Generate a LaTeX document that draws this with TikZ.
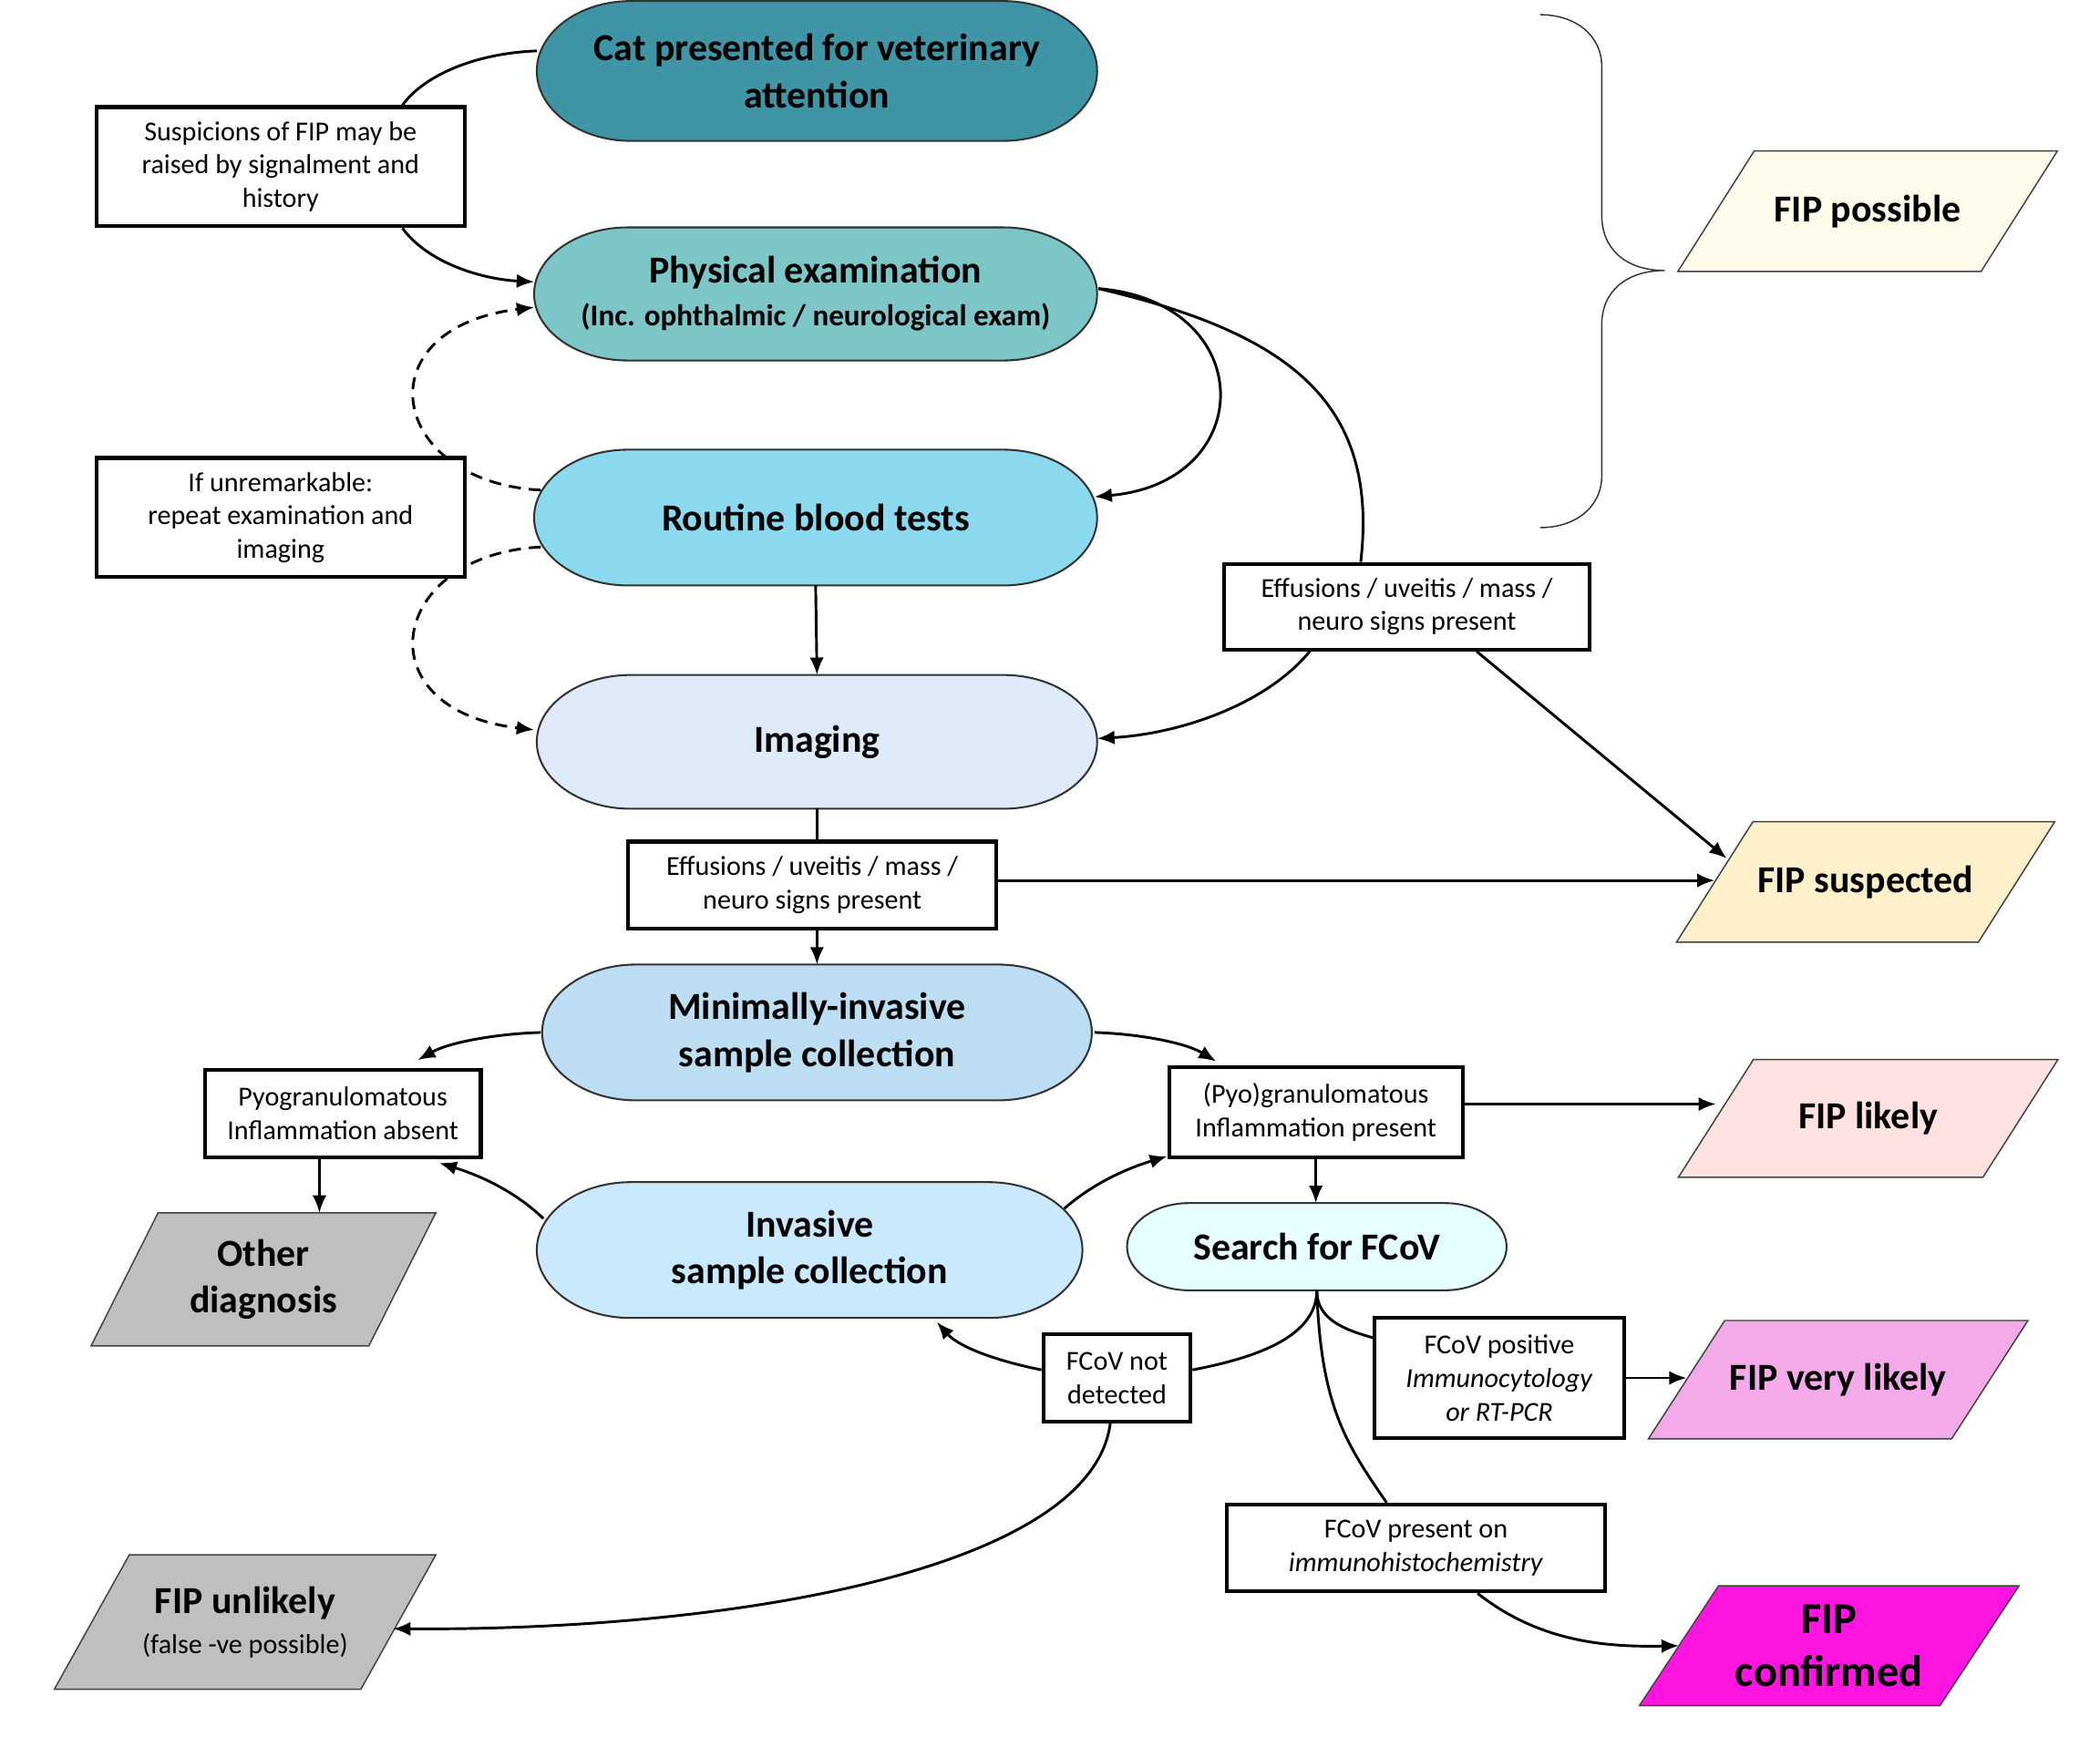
\documentclass[tikz,border=0pt]{standalone}
\usepackage{fontspec}
\setmainfont{Carlito}
\usetikzlibrary{arrows.meta}
\usetikzlibrary{calc}

\definecolor{catcol}{HTML}{3F95A5}
\definecolor{physcol}{HTML}{7DC6C8}
\definecolor{bloodcol}{HTML}{8BD9EE}
\definecolor{imgcol}{HTML}{DEEAF8}
\definecolor{minicol}{HTML}{BDDDF2}
\definecolor{invcol}{HTML}{CBE9FC}
\definecolor{fcovcol}{HTML}{E6FFFF}
\definecolor{possiblecol}{HTML}{FEFBEA}
\definecolor{suspectcol}{HTML}{FEF0CB}
\definecolor{likelycol}{HTML}{FDE2E1}
\definecolor{verycol}{HTML}{F4A9E9}
\definecolor{confirmcol}{HTML}{FF14E0}
\definecolor{othercol}{HTML}{BFBFBF}

\pgfdeclarelayer{bg}
\pgfsetlayers{bg,main}

\tikzset{
  stage/.style={align=center, inner sep=0pt, font=\bfseries\fontsize{28.5}{35}\selectfont},
  capsule/.style={draw=black!80, line width=1.4pt},
  note/.style={draw, fill=white, line width=2.8pt, align=center, inner sep=0pt, font=\fontsize{20.5}{25}\selectfont},
  outcome/.style={align=center, inner sep=0pt, font=\bfseries\fontsize{28.5}{35}\selectfont},
  outcome line/.style={draw=black!75, line width=1pt},
  link/.style={line width=2pt},
  loop back/.style={line width=2pt, dash pattern=on 9pt off 6pt},
}

% rounded ends round a stage node: #1 = end width, #2 = node, #3 = fill
\newcommand{\capsule}[3][70]{%
  \coordinate (p1) at ($(#2.north west)+(#1,0)$);
  \coordinate (p2) at ($(#2.north east)+(-#1,0)$);
  \coordinate (p3) at ($(#2.south east)+(-#1,0)$);
  \coordinate (p4) at ($(#2.south west)+(#1,0)$);
  \path[capsule, fill=#3] (p1) -- (p2)
    .. controls ($(p2)!0.55!(#2.north east)$) and ($(#2.east)!0.55!(#2.north east)$) .. (#2.east)
    .. controls ($(#2.east)!0.55!(#2.south east)$) and ($(p3)!0.55!(#2.south east)$) .. (p3)
    -- (p4)
    .. controls ($(p4)!0.55!(#2.south west)$) and ($(#2.west)!0.55!(#2.south west)$) .. (#2.west)
    .. controls ($(#2.west)!0.55!(#2.north west)$) and ($(p1)!0.55!(#2.north west)$) .. (p1) -- cycle;
}

% slanted box round an outcome node: #1 = slant, #2 = node, #3 = fill
\newcommand{\slant}[3][57]{%
  \path[outcome line, fill=#3] (#2.south west) -- ($(#2.south east)+(-#1,0)$)
    -- (#2.north east) -- ($(#2.north west)+(#1,0)$) -- cycle;
}

\begin{document}
\begin{tikzpicture}[x=1pt, y=-1pt, >={Latex[length=13pt,width=10.5pt]}]
  \useasboundingbox (0,0) rectangle (1568,1304);

  % main steps
  \node[stage, minimum width=418pt, minimum height=104pt] (cat) at (610,53) {Cat presented for veterinary\\attention};
  \node[stage, minimum width=420pt, minimum height=99pt] (phys) at (609,219.5) {Physical examination\\[-3pt]{\fontsize{22.5}{27}\selectfont(Inc. ophthalmic / neurological exam)}};
  \node[stage, minimum width=420pt, minimum height=101pt] (blood) at (609,386.5) {Routine blood tests};
  \node[stage, minimum width=418pt, minimum height=99.5pt] (imaging) at (610,554) {Imaging};
  \node[stage, minimum width=410pt, minimum height=101pt] (minimal) at (610,771) {Minimally-invasive\\sample collection};
  \node[stage, minimum width=407pt, minimum height=101pt] (invasive) at (604.5,933.5) {Invasive\\sample collection};
  \node[stage, minimum width=283pt, minimum height=64.7pt] (search) at (983.2,931) {Search for FCoV};

  % findings
  \node[note, minimum width=275pt, minimum height=89pt] (susp) at (209.5,124.5) {Suspicions of FIP may be\\raised by signalment and\\history};
  \node[note, minimum width=275pt, minimum height=89pt] (unrem) at (209.5,386.5) {If unremarkable:\\repeat examination and\\imaging};
  \node[note, minimum width=273pt, minimum height=64pt] (eff1) at (1050.5,453) {Effusions / uveitis / mass /\\neuro signs present};
  \node[note, minimum width=275pt, minimum height=65pt] (eff2) at (606.5,661) {Effusions / uveitis / mass /\\neuro signs present};
  \node[note, minimum width=206pt, minimum height=65pt] (pyoabs) at (256,831.5) {Pyogranulomatous\\Inflammation absent};
  \node[note, minimum width=219pt, minimum height=67pt] (pyopres) at (982.5,830.5) {(Pyo)granulomatous\\Inflammation present};
  \node[note, minimum width=110pt, minimum height=65pt] (notdet) at (834,1029) {FCoV not\\detected};
  \node[note, minimum width=186pt, minimum height=90pt] (fcovpos) at (1119.5,1029) {FCoV positive\\\textit{Immunocytology}\\\textit{or RT-PCR}};
  \node[note, minimum width=282pt, minimum height=65pt] (ihc) at (1057.3,1156) {FCoV present on\\\textit{immunohistochemistry}};

  % outcomes
  \node[outcome, minimum width=283pt, minimum height=89.5pt] (possible) at (1394.5,157.7) {FIP possible};
  \node[outcome, minimum width=282pt, minimum height=89.5pt] (suspected) at (1393,658.6) {FIP suspected};
  \node[outcome, minimum width=283pt, minimum height=87.5pt] (likely) at (1394.9,835.2) {FIP likely};
  \node[outcome, minimum width=283pt, minimum height=88pt] (verylikely) at (1372.5,1030.3) {FIP very likely};
  \node[outcome, minimum width=283pt, minimum height=89pt, font=\bfseries\fontsize{33}{40}\selectfont] (confirmed) at (1365.8,1229) {FIP\\confirmed};
  \node[outcome, minimum width=257pt, minimum height=99pt] (other) at (196.7,955.4) {Other\\diagnosis};
  \node[outcome, minimum width=284.5pt, minimum height=100pt] (unlikely) at (183,1211.3) {FIP unlikely\\[-5pt]{\mdseries\fontsize{20.5}{25}\selectfont(false -ve possible)}};

  % brace
  \draw[black!80, line width=1pt] (1150,11) .. controls (1176,11) and (1196,26) .. (1196,50) -- (1196,161)
    .. controls (1196,186) and (1214,202) .. (1243,202) .. controls (1214,202) and (1196,218) .. (1196,242)
    -- (1196,355) .. controls (1196,379) and (1176,394) .. (1150,394);

  \begin{pgfonlayer}{bg}
    \capsule{cat}{catcol}
    \capsule{phys}{physcol}
    \capsule{blood}{bloodcol}
    \capsule{imaging}{imgcol}
    \capsule{minimal}{minicol}
    \capsule{invasive}{invcol}
    \capsule[46]{search}{fcovcol}

    \slant{possible}{possiblecol}
    \slant{suspected}{suspectcol}
    \slant[56]{likely}{likelycol}
    \slant{verylikely}{verycol}
    \slant[59]{confirmed}{confirmcol}
    \slant[50]{other}{othercol}
    \slant[56]{unlikely}{othercol}

    % connectors
    \draw[link] ($(cat.west)+(0,-15)$) .. controls +(-50,2) and +(14,-20) .. ($(susp.north)+(91,0)$);
    \draw[link,->] ($(susp.south)+(91,0)$) .. controls +(19,26) and +(-39,-2) .. ($(phys.west)+(0,-9)$);
    \draw[link,->] ($(phys.east)+(1,-4)$) .. controls +(120,10) and +(123,-11) .. ($(blood.east)+(-2,-15.5)$);
    \draw[link] ($(phys.east)+(1,-4)$) .. controls +(140,33) and +(14,-121) .. ($(eff1.north)+(-34.5,0)$);
    \draw[loop back,->] ($(blood.west)+(5,-20.5)$) .. controls +(-114,-6) and +(-129,15.5) .. ($(phys.west)+(0,10)$);
    \draw[loop back,->] ($(blood.west)+(5,22)$) .. controls +(-114,5.5) and +(-129,-15) .. ($(imaging.west)+(-2,-9)$);
    \draw[link,->] (blood.south) -- (imaging.north);
    \draw[link,->] ($(eff1.south)+(-72.5,0)$) .. controls +(-33,40) and +(61.5,-3.5) .. ($(imaging.east)+(0,-2.5)$);
    \draw[link,->] ($(eff1.south)+(52,0)$) -- ($(suspected.west)+(37.5,-17.5)$);
    \draw[link] (imaging.south) -- (imaging.south |- eff2.north);
    \draw[link,->] (eff2.south -| minimal.north) -- (minimal.north);
    \draw[link,->] ([yshift=3.5pt]eff2.east) -- ([yshift=3.5pt,xshift=28.5pt]eff2.east -| suspected.west);
    \draw[link,->] ($(minimal.west)+(-1,0)$) .. controls +(-34,1) and +(23,-13) .. ($(pyoabs.north)+(56,-6)$);
    \draw[link,->] ($(minimal.east)+(2,0)$) .. controls +(33,1) and +(-23,-14) .. ($(pyopres.north)+(-74.5,-3)$);
    \draw[link,->] ($(invasive.west)+(5,-23.5)$) .. controls +(-21,-20) and +(32,10) .. ($(pyoabs.south)+(72,3)$);
    \draw[link,->] ($(invasive.east)+(-13.5,-31)$) .. controls +(20,-17.5) and +(-33,10) .. ($(pyopres.south west)+(0,-2)$);
    \draw[link,->] ([xshift=-17.5pt]pyoabs.south) -- ([xshift=-17.5pt]pyoabs.south |- other.north);
    \draw[link,->] ([yshift=6pt]pyopres.east) -- ([yshift=6pt,xshift=28pt]pyopres.east -| likely.west);
    \draw[link,->] (pyopres.south) -- (pyopres.south |- search.north);
    \draw[link] (search.south) .. controls +(0,37) and +(41,-8) .. ($(notdet.east)+(0,-6)$);
    \draw[link] (search.south) .. controls +(0,22) and +(-21,-6) .. ($(fcovpos.west)+(0,-30)$);
    \draw[link] (search.south) .. controls +(3,87) and +(-30,-43.6) .. ($(ihc.north)+(-22,0)$);
    \draw[link,->] ($(notdet.west)+(0,-6)$) .. controls +(-39,-8) and +(15.5,17.5) .. ($(invasive.south)+(95,3)$);
    \draw[link,->] ($(notdet.south)+(-5,0)$) .. controls +(-14,108.5) and +(257,1.6) .. ($(unlikely.east)+(-32,5)$);
    \draw[link,->] (fcovpos.east) -- ([xshift=28.5pt]fcovpos.east -| verylikely.west);
    \draw[link,->] ($(ihc.south)+(46,0)$) .. controls +(47,37) and +(-53,1) .. ($(confirmed.west)+(29.5,0)$);
  \end{pgfonlayer}
\end{tikzpicture}
\end{document}
